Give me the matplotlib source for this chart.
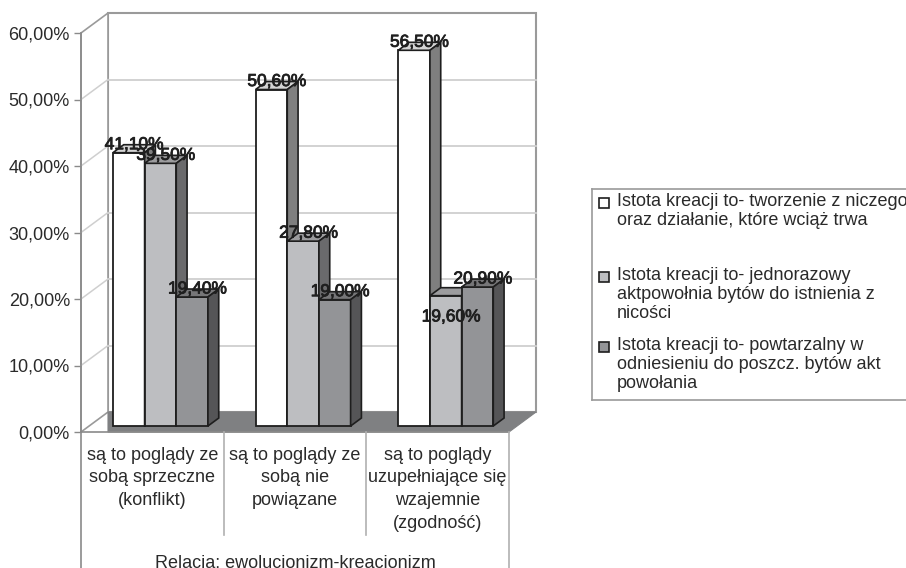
import matplotlib
matplotlib.use("Agg")
import matplotlib.pyplot as plt
import matplotlib.patheffects as pe
from matplotlib.patches import Polygon, Rectangle
from matplotlib.lines import Line2D
import numpy as np

plt.rcParams['font.family'] = ['Liberation Sans', 'DejaVu Sans']

# data
categories = ["są to poglądy ze\nsobą sprzeczne\n(konflikt)",
              "są to poglądy ze\nsobą nie\npowiązane",
              "są to poglądy\nuzupełniające się\nwzajemnie\n(zgodność)"]
axis_title = "Relacja: ewolucjonizm-kreacjonizm"
series_names = ["Istota kreacji to- tworzenie z niczego\noraz działanie, które wciąż trwa",
                "Istota kreacji to- jednorazowy\naktpowołnia bytów do istnienia z\nnicości",
                "Istota kreacji to- powtarzalny w\nodniesieniu do poszcz. bytów akt\npowołania"]
tworzenie = [41.1, 50.6, 56.5]
jednorazowy = [39.5, 27.8, 19.6]
powtarzalny = [19.4, 19.0, 20.9]
yticks = [0, 10, 20, 30, 40, 50, 60]

values = [tworzenie, jednorazowy, powtarzalny]
front_col = ["#ffffff", "#bdbec1", "#939497"]
top_col = ["#d4d4d4", "#9c9c9e", "#767678"]
side_col = ["#7f7f7f", "#6a6a6c", "#555557"]
edge = "#1e1e1e"
wall_edge = "#9a9a9a"
grid_col = "#cfcfcf"
txt = "#2a2a2a"

W, H = 906, 568
fig = plt.figure(figsize=(W / 100, H / 100), dpi=100)
ax = fig.add_axes([81 / W, 136 / H, 428 / W, 399 / H])
ax.set_xlim(0, 3)
ax.set_ylim(0, 60)
for s in ax.spines.values():
    s.set_visible(False)
ax.set_xticks([])
ax.set_yticks(yticks)
ax.set_yticklabels([f"{v:.2f}%".replace(".", ",") for v in yticks], fontsize=13, color=txt)
ax.tick_params(axis="y", length=5, width=1, color="#8a8a8a", pad=3)
ax.patch.set_visible(False)

# depth of the 3d box in data units
DX, DY = 27 / 142.67, 3.0
n = len(categories)

# back wall, left wall, floor
ax.add_patch(Rectangle((DX, DY), n, 60, facecolor="white", edgecolor=wall_edge, lw=1.5, zorder=0.5, clip_on=False))
ax.add_patch(Polygon([(0, 0), (DX, DY), (DX, 60 + DY), (0, 60)], closed=True, facecolor="white",
                     edgecolor=wall_edge, lw=1.2, zorder=0.6, clip_on=False))
for k in yticks[1:-1]:
    ax.plot([DX, n + DX], [k + DY, k + DY], color=grid_col, lw=1.3, zorder=0.7, clip_on=False)
    ax.plot([0, DX], [k, k + DY], color=grid_col, lw=1.1, zorder=0.7, clip_on=False)
ax.add_patch(Polygon([(DX, 0), (n, 0), (n + DX, DY), (DX, DY)], closed=True, facecolor="#7f8082",
                     edgecolor="#7f8082", lw=0.8, zorder=0.8, clip_on=False))

# axis lines and category box
ax.plot([0, 0], [-22, 60], color="#8a8a8a", lw=1.2, zorder=1, clip_on=False)
ax.plot([0, n], [0, 0], color="#8a8a8a", lw=1.2, zorder=1, clip_on=False)
ax.plot([n, n], [-22, 0], color="#b0b0b0", lw=1.2, zorder=1, clip_on=False)
for i in range(1, n):
    ax.plot([i, i], [-15.5, 0], color="#b0b0b0", lw=1.2, zorder=1, clip_on=False)
for i, c in enumerate(categories):
    ax.text(i + 0.5, -2.2, c, ha="center", va="top", fontsize=13, color=txt, linespacing=1.45)
ax.text(n / 2, -19.7, axis_title, ha="center", va="center", fontsize=13, color=txt)

# 3d bars
w = 0.222
d0, dd = 0.3, 0.4
base = d0 * DY
for j, vals in enumerate(values):
    x0 = np.arange(n) + 0.5 - 1.5 * w + j * w + d0 * DX
    bars = ax.bar(x0, vals, width=w, bottom=base, align="edge", color=front_col[j],
                  edgecolor=edge, lw=1.3, zorder=3 + j * 0.1)
    for b, v in zip(bars, vals):
        x = b.get_x()
        t = v + base
        ax.add_patch(Polygon([(x, t), (x + w, t), (x + w + dd * DX, t + dd * DY), (x + dd * DX, t + dd * DY)],
                             closed=True, facecolor=top_col[j], edgecolor=edge, lw=1.2, zorder=3 + j * 0.1))
        ax.add_patch(Polygon([(x + w, base), (x + w + dd * DX, base + dd * DY), (x + w + dd * DX, t + dd * DY),
                              (x + w, t)], closed=True, facecolor=side_col[j], edgecolor=edge, lw=1.2,
                             zorder=3 + j * 0.1))

# data labels
below = {(2, 1)}
for j, vals in enumerate(values):
    for i, v in enumerate(vals):
        xc = i + 0.5 - 1.5 * w + (j + 0.5) * w + 0.5 * DX
        y = v - 2.3 if (i, j) in below else v + 2.1
        ax.text(xc, y, f"{v:.2f}%".replace(".", ","), ha="center", va="center", fontsize=12.5,
                color="#1f1f1f", zorder=10,
                path_effects=[pe.withStroke(linewidth=0.6, foreground="#1f1f1f")])

# legend (box runs off the right edge, like the original)
def fx(px):
    return px / W


def fy(py):
    return 1 - py / H


lg = "#9a9a9a"
fig.add_artist(Line2D([fx(592), fx(592)], [fy(189), fy(400)], color=lg, lw=1.2))
fig.add_artist(Line2D([fx(592), 1.05], [fy(189), fy(189)], color=lg, lw=1.2))
fig.add_artist(Line2D([fx(592), 1.05], [fy(400), fy(400)], color=lg, lw=1.2))
first_line = [203, 277, 347]
for j, name in enumerate(series_names):
    fig.add_artist(Rectangle((fx(599), fy(first_line[j] + 5)), 10 / W, 10 / H, transform=fig.transFigure,
                             facecolor=front_col[j], edgecolor=edge, lw=1.2))
    fig.text(fx(617), fy(first_line[j] - 10), name, ha="left", va="top", fontsize=13, color=txt,
             linespacing=1.15)

fig.savefig("out.png", dpi=100)
